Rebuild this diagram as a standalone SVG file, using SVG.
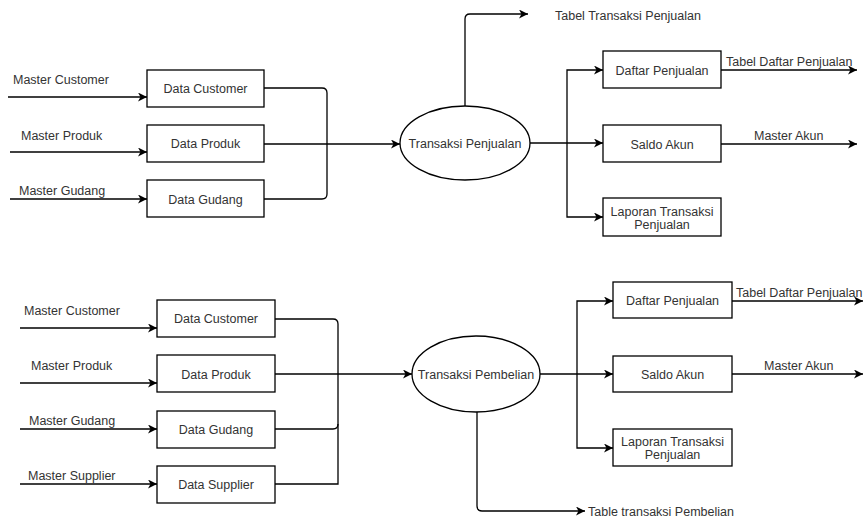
<svg xmlns="http://www.w3.org/2000/svg" width="864" height="518" viewBox="0 0 864 518">
<style>
  .box { fill: #ffffff; stroke: #000000; stroke-width: 1.3; }
  .ell { fill: #ffffff; stroke: #000000; stroke-width: 1.3; }
  .ln { fill: none; stroke: #000000; stroke-width: 1.3; }
  .arr { marker-end: url(#ah); }
  text { font-family: "Liberation Sans", Arial, sans-serif; font-size: 12.5px; fill: #333333; }
  .c { text-anchor: middle; }
</style>
<defs>
  <marker id="ah" markerUnits="userSpaceOnUse" markerWidth="10" markerHeight="9" refX="9" refY="4.5" orient="auto">
    <path d="M0,0 L9,4.5 L0,9 L2.5,4.5 Z" fill="#000000"/>
  </marker>
</defs>
<rect width="864" height="518" fill="#ffffff"/>

<g id="connectors">
  <!-- top section -->
  <path class="ln arr" d="M8,97 H147"/>
  <path class="ln arr" d="M10,152 H147"/>
  <path class="ln arr" d="M10,199 H147"/>
  <path class="ln" d="M264,88 H322 Q327,88 327,93 V194 Q327,199 322,199 H264"/>
  <path class="ln arr" d="M264,144 H400"/>
  <path class="ln arr" d="M465,106 V19 Q465,14 470,14 H528"/>
  <path class="ln arr" d="M529,143 H603"/>
  <path class="ln arr" d="M567,143 V70 H603"/>
  <path class="ln arr" d="M567,143 V217 H603"/>
  <path class="ln arr" d="M721,70 H857"/>
  <path class="ln arr" d="M721,144 H857"/>
  <!-- bottom section -->
  <path class="ln arr" d="M20,328 H157"/>
  <path class="ln arr" d="M20,383 H157"/>
  <path class="ln arr" d="M20,429 H157"/>
  <path class="ln arr" d="M20,484 H157"/>
  <path class="ln" d="M275,319 H333 Q338,319 338,324 V484 H275"/>
  <path class="ln" d="M275,429 H333 Q338,429 338,424"/>
  <path class="ln arr" d="M275,374 H412"/>
  <path class="ln arr" d="M477,412 V506 Q477,511 482,511 H585"/>
  <path class="ln arr" d="M540,374 H613"/>
  <path class="ln arr" d="M577,374 V301 H613"/>
  <path class="ln arr" d="M577,374 V448 H613"/>
  <path class="ln arr" d="M732,301 H863"/>
  <path class="ln arr" d="M732,374 H863"/>
</g>

<g id="labels">
  <text x="13" y="83.5">Master Customer</text>
  <text x="21" y="139.5">Master Produk</text>
  <text x="19" y="194.5">Master Gudang</text>
  <text x="555" y="19.5">Tabel Transaksi Penjualan</text>
  <text x="726" y="65.5">Tabel Daftar Penjualan</text>
  <text x="754" y="139.5">Master Akun</text>
  <text x="24" y="314.5">Master Customer</text>
  <text x="31" y="369.5">Master Produk</text>
  <text x="29" y="424.5">Master Gudang</text>
  <text x="28" y="479.5">Master Supplier</text>
  <text x="736" y="296.5">Tabel Daftar Penjualan</text>
  <text x="764" y="369.5">Master Akun</text>
  <text x="588" y="516">Table transaksi Pembelian</text>
</g>

<g id="node-data-customer-1">
  <rect class="box" x="147" y="70" width="117" height="37"/>
  <text class="c" x="205.5" y="93">Data Customer</text>
</g>
<g id="node-data-produk-1">
  <rect class="box" x="147" y="125" width="117" height="37"/>
  <text class="c" x="205.5" y="148">Data Produk</text>
</g>
<g id="node-data-gudang-1">
  <rect class="box" x="147" y="180" width="117" height="37"/>
  <text class="c" x="205.5" y="203.5">Data Gudang</text>
</g>
<g id="node-transaksi-penjualan">
  <ellipse class="ell" cx="465" cy="143" rx="65" ry="37"/>
  <text class="c" x="465" y="147.5">Transaksi Penjualan</text>
</g>
<g id="node-daftar-penjualan-1">
  <rect class="box" x="603" y="51" width="118" height="37"/>
  <text class="c" x="662" y="74.5">Daftar Penjualan</text>
</g>
<g id="node-saldo-akun-1">
  <rect class="box" x="603" y="125" width="118" height="37"/>
  <text class="c" x="662" y="148.5">Saldo Akun</text>
</g>
<g id="node-laporan-1">
  <rect class="box" x="603" y="198" width="118" height="38"/>
  <text class="c" x="662" y="216">Laporan Transaksi</text>
  <text class="c" x="662" y="229">Penjualan</text>
</g>

<g id="node-data-customer-2">
  <rect class="box" x="157" y="300" width="118" height="37"/>
  <text class="c" x="216" y="323">Data Customer</text>
</g>
<g id="node-data-produk-2">
  <rect class="box" x="157" y="355" width="118" height="37"/>
  <text class="c" x="216" y="378.5">Data Produk</text>
</g>
<g id="node-data-gudang-2">
  <rect class="box" x="157" y="411" width="118" height="37"/>
  <text class="c" x="216" y="434">Data Gudang</text>
</g>
<g id="node-data-supplier-2">
  <rect class="box" x="157" y="466" width="118" height="37"/>
  <text class="c" x="216" y="489">Data Supplier</text>
</g>
<g id="node-transaksi-pembelian">
  <ellipse class="ell" cx="476" cy="374" rx="64" ry="38"/>
  <text class="c" x="476" y="378.5">Transaksi Pembelian</text>
</g>
<g id="node-daftar-penjualan-2">
  <rect class="box" x="613" y="282" width="119" height="36"/>
  <text class="c" x="672.5" y="304.5">Daftar Penjualan</text>
</g>
<g id="node-saldo-akun-2">
  <rect class="box" x="613" y="356" width="119" height="36"/>
  <text class="c" x="672.5" y="378.5">Saldo Akun</text>
</g>
<g id="node-laporan-2">
  <rect class="box" x="613" y="429" width="119" height="37"/>
  <text class="c" x="672.5" y="446">Laporan Transaksi</text>
  <text class="c" x="672.5" y="459">Penjualan</text>
</g>
</svg>
